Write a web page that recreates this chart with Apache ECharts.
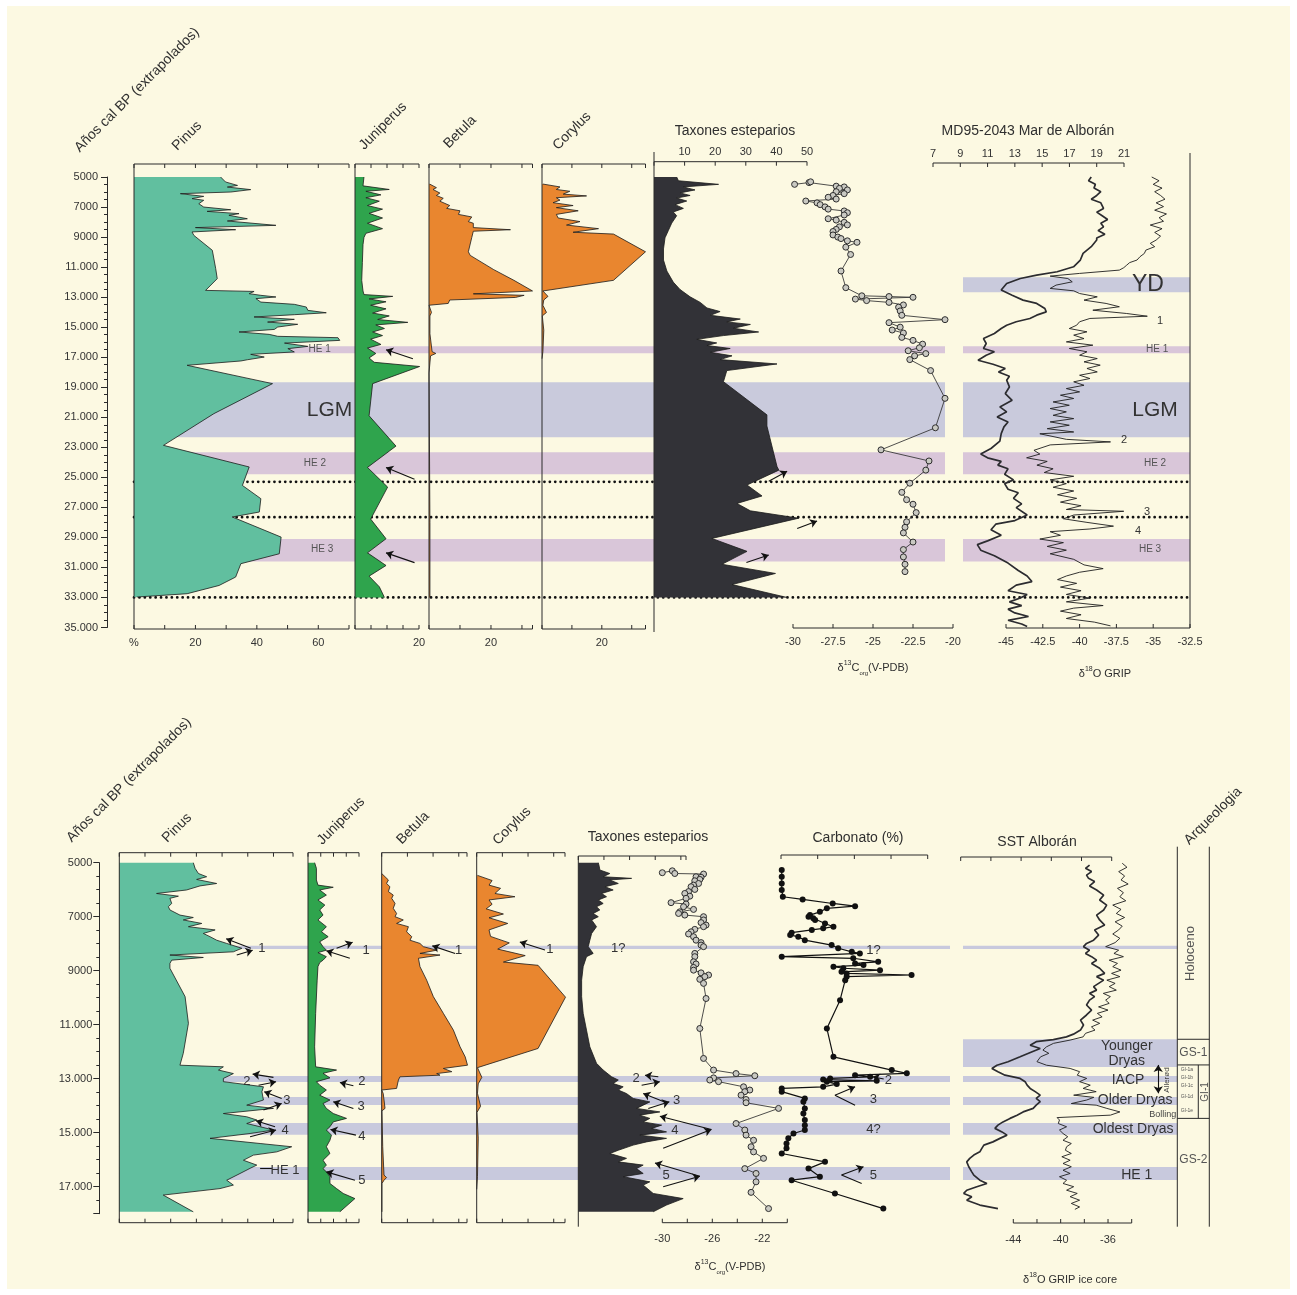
<!DOCTYPE html>
<html>
<head>
<meta charset="utf-8">
<script src="https://cdn.jsdelivr.net/npm/echarts@6/dist/echarts.min.js"></script>
<style>
html,body{margin:0;padding:0;background:#ffffff}
#chart{width:1297px;height:1295px}
</style>
</head>
<body>
<div id="chart"></div>
<script>
// ---------------------------------------------------------------
// Records: [age (cal BP), value]
// ---------------------------------------------------------------
// Upper diagram (5000 - 35000 cal BP)
const pinusTop = [[5000,28.2],[5330,29.8],[5560,33.7],[5670,30.4],[5840,38],[6000,31.5],[6110,15.1],[6290,22.7],[6440,18.9],[6550,22.7],[6780,21.1],[7000,22.7],[7180,31.5],[7290,23.8],[7440,34.2],[7550,30.9],[7780,36.9],[7930,30.4],[8220,46.2],[8370,20],[8510,33.1],[8660,18.9],[8890,19.5],[9880,25.5],[11100,26.6],[11770,27.1],[12550,23.3],[12620,39.1],[12770,37.5],[12880,41.3],[12990,46.2],[13100,39.7],[13330,41.3],[13480,52.2],[13660,56.1],[13880,56.6],[14040,62.6],[14170,52.2],[14320,39.1],[14480,52.2],[14660,43.5],[14810,53.3],[14990,46.8],[15150,45.7],[15320,34.2],[15480,44],[15610,46.8],[15700,66.4],[15880,67],[16060,49],[16280,56.6],[16430,50.1],[16650,52.2],[16810,38],[16990,42.4],[17170,36.9],[17250,34.8],[17540,17.3],[18760,45.1],[20760,26],[22870,9.6],[24310,37.5],[25540,35.3],[26420,41.3],[27310,40.8],[27640,32],[28980,47.9],[30090,47.3],[30750,34.8],[31640,33.1],[32200,27.7],[32750,17.3],[32970,0.9]];

const juniperusTop = [[5000,2.8],[5590,2.5],[5830,10.7],[5950,3.4],[6190,8.1],[6380,3.4],[6610,7.6],[6900,3.9],[7140,8.6],[7420,4.4],[7730,8.6],[8080,3.9],[8440,8.6],[8750,3.4],[9030,2.8],[9510,2.5],[10700,2.3],[11880,2.1],[12590,2.5],[12830,2.8],[12950,11.8],[13120,4.4],[13310,9.7],[13540,4.9],[13780,9.7],[14060,5.5],[14250,10.7],[14490,7.1],[14680,16.5],[14850,6.5],[15090,9.2],[15320,5.5],[15560,8.6],[15800,4.9],[16150,8.1],[16390,3.9],[16750,6.5],[17050,4.4],[17340,6.0],[17620,20.2],[18760,5.5],[20900,4.4],[22920,12.8],[24340,3.9],[25650,10.2],[27780,4.9],[29090,9.7],[30030,3.9],[30870,9.7],[31580,4.4],[32290,7.6],[33000,9.2]];

const betulaTop = [[5470,0.2],[5710,2.4],[5830,1.3],[6070,3.5],[6230,2.4],[6420,4.6],[6610,3.5],[6900,6.7],[7090,5.7],[7250,10],[7490,9.5],[7660,13.8],[7970,12.7],[8080,14.3],[8370,14.3],[8510,26.3],[8610,14.3],[9030,13.8],[9980,12.7],[10220,13.3],[11170,20.9],[11880,27.4],[12590,33.4],[12780,14.3],[12880,30.7],[13020,27.9],[13190,6.7],[13420,6.2],[13540,0],[14020,0.8],[14250,0.3],[15440,0.3],[16630,1],[16750,2.2],[16910,0.5],[18050,0],[28000,0.3],[33000,0.3]];

const corylusRecord = [[5470,0.3],[5660,6],[5830,4.8],[5950,9.3],[6140,7.1],[6260,14.9],[6380,4.8],[6540,6],[6710,3.7],[6900,10.4],[7040,4.8],[7250,12.1],[7490,4.8],[7730,5.4],[7970,12.7],[8200,8.2],[8440,18.9],[8680,10.4],[8800,23.9],[9980,34.6],[11880,23.9],[12590,0.3],[12950,2],[13190,0.6],[13540,0.3],[14020,1.5],[14250,0.1],[15200,0.6],[16630,0.3],[17100,0]];

const steppeTop = [[5000,7.4],[5250,8],[5490,21.1],[5660,9.6],[5860,13.4],[6060,8.5],[6230,11.8],[6400,7.4],[6600,10.7],[6840,6.9],[7090,9.6],[7330,6.3],[7580,7.4],[8070,5.8],[8560,4.7],[9050,3.6],[9790,3.1],[10530,3.1],[11260,4.2],[12000,6.3],[12490,8.5],[12980,11.8],[13350,15.1],[13720,17.3],[13960,21.6],[14210,18.4],[14460,28.2],[14650,23.8],[14820,31.5],[15070,26],[15320,34.2],[15560,22.7],[15810,14],[16050,20.5],[16220,17.3],[16420,24.9],[16670,18.4],[16910,25.5],[17160,21.6],[17450,40.2],[17890,23.8],[18630,22.7],[20840,36.9],[21580,36.9],[24280,40.2],[24520,40.8],[25510,30.4],[26240,35.3],[26740,27.1],[27230,31.5],[27720,47.3],[29070,18.9],[29930,30.4],[30790,22.2],[31400,39.7],[32140,25.5],[33000,43.5]];

const d13cTop = [[5490,-29.9],[5370,-29.0],[5320,-28.9],[5610,-27.3],[5660,-26.8],[5760,-27.1],[5860,-26.6],[5980,-27.3],[6110,-26.8],[6230,-27.5],[6350,-27.8],[6470,-27.3],[6600,-29.2],[6720,-28.5],[6840,-28.3],[6990,-28.0],[7140,-27.8],[7260,-26.8],[7380,-26.6],[7530,-26.8],[7780,-27.8],[7870,-27.3],[8020,-26.8],[8190,-26.6],[8320,-27.1],[8490,-27.3],[8630,-27.5],[8860,-27.5],[9000,-27.2],[9100,-27.0],[9250,-26.6],[9350,-26.0],[9670,-26.7],[10160,-26.4],[11260,-27.0],[12370,-26.7],[12910,-25.7],[12960,-24.0],[13010,-22.5],[13130,-26.1],[13230,-25.4],[13350,-24.0],[13520,-23.1],[13670,-23.4],[13920,-23.3],[14210,-23.2],[14500,-20.5],[14700,-24.0],[15000,-23.3],[15190,-23.8],[15390,-23.1],[15680,-23.2],[15880,-22.5],[16130,-21.9],[16370,-22.1],[16570,-22.8],[16760,-21.7],[16910,-22.4],[17160,-22.7],[17890,-21.4],[19740,-20.5],[21700,-21.1],[23170,-24.5],[23910,-21.5],[24520,-21.7],[25390,-22.7],[26000,-23.2],[26490,-22.9],[26790,-22.5],[27350,-22.3],[27960,-22.9],[28330,-23.0],[28700,-23.1],[29310,-22.5],[29810,-23.1],[30300,-23.1],[30790,-23.0],[31280,-23.0]];

const sstTop = [[5000,18.6],[5250,18.4],[5490,18.9],[5740,18.8],[5980,19.3],[6230,19.0],[6480,18.6],[6720,19.3],[7090,19.5],[7340,19.0],[7580,19.4],[7830,19.8],[8080,19.3],[8320,19.5],[8570,19.1],[8810,19.6],[9060,19.0],[9200,19.0],[9640,18.6],[10090,18.0],[10530,17.8],[10980,17.3],[11310,16.1],[11530,14.6],[11760,13.4],[12090,12.4],[12530,12.0],[12870,12.8],[13200,13.6],[13420,14.6],[13760,15.2],[13980,15.3],[14200,14.6],[14420,14.1],[14640,13.1],[14870,12.4],[15090,12.0],[15420,11.5],[15760,10.7],[16090,10.9],[16420,10.7],[16640,11.5],[16870,10.9],[17200,10.3],[17470,11.4],[17750,12.3],[17980,11.8],[18270,12.6],[18530,12.4],[18980,12.6],[19420,12.3],[19870,12.8],[20310,11.9],[20640,12.4],[20980,11.7],[21310,12.5],[21640,12.2],[22090,12.0],[22590,11.9],[23080,11.25],[23450,10.5],[23700,11.0],[23940,12.0],[24190,11.75],[24430,12.5],[24800,12.25],[25170,12.9],[25420,12.25],[25790,12.5],[26030,13.25],[26400,12.9],[26770,13.5],[27020,13.1],[27510,13.9],[27880,13.0],[28120,11.6],[28490,11.25],[28860,12.0],[29230,11.0],[29480,10.25],[29850,10.5],[30220,11.5],[30710,12.5],[31200,13.25],[31570,13.9],[31940,14.25],[32180,13.1],[32550,12.5],[32800,13.9],[33040,13.4],[33290,12.6],[33540,13.5],[33780,12.5],[34030,13.0],[34270,14.0],[34520,12.5],[34770,13.5],[34940,13.9]];

const gripTop = [[5000,-35.1],[5250,-34.6],[5490,-35.0],[5740,-34.4],[5980,-34.9],[6230,-34.5],[6480,-34.2],[6720,-34.8],[6970,-34.3],[7210,-34.9],[7460,-34.1],[7710,-34.6],[7950,-34.3],[8200,-35.2],[8440,-34.4],[8690,-34.9],[8940,-34.5],[9200,-34.8],[9420,-35.2],[9640,-34.9],[9870,-35.5],[10090,-35.6],[10310,-35.9],[10530,-36.1],[10700,-36.6],[10870,-36.8],[11040,-37.0],[11200,-37.3],[11420,-40.0],[11600,-42.0],[11760,-40.8],[11980,-40.5],[12200,-41.6],[12420,-42.0],[12580,-40.4],[12760,-40.0],[12980,-38.8],[13200,-39.7],[13420,-38.2],[13640,-37.3],[13870,-39.1],[14090,-36.8],[14270,-35.4],[14420,-39.3],[14640,-40.0],[14870,-40.2],[15090,-40.7],[15310,-39.5],[15530,-40.4],[15760,-39.7],[15980,-40.9],[16200,-39.1],[16420,-40.7],[16640,-39.5],[16870,-40.0],[17090,-38.8],[17310,-39.7],[17530,-38.6],[17750,-39.5],[17980,-38.8],[18200,-40.0],[18420,-39.3],[18640,-40.4],[18870,-39.7],[19090,-40.9],[19310,-40.0],[19530,-41.3],[19750,-40.4],[19980,-41.8],[20200,-40.7],[20420,-42.0],[20640,-40.9],[20870,-41.8],[21090,-40.4],[21310,-42.0],[21530,-40.7],[21760,-42.2],[21980,-40.4],[22100,-42.7],[22470,-40.9],[22640,-37.9],[22840,-42.0],[23200,-43.1],[23450,-42.7],[23700,-43.6],[23940,-42.2],[24190,-42.9],[24430,-41.8],[24680,-42.4],[24930,-40.4],[25170,-42.0],[25420,-40.9],[25660,-41.8],[25910,-40.4],[26160,-41.5],[26400,-40.2],[26650,-41.3],[26890,-39.9],[27140,-40.9],[27260,-37.0],[27510,-40.4],[27760,-41.1],[28000,-39.5],[28250,-37.7],[28440,-39.3],[28620,-42.0],[28860,-41.3],[29110,-42.7],[29350,-41.1],[29600,-42.2],[29850,-40.9],[30090,-42.0],[30460,-40.4],[30830,-39.7],[31080,-38.4],[31320,-40.0],[31570,-40.9],[31810,-41.5],[32060,-40.2],[32310,-41.3],[32550,-39.9],[32800,-40.9],[33040,-39.3],[33290,-40.9],[33540,-38.4],[33710,-40.4],[33910,-41.3],[34150,-39.9],[34400,-40.9],[34640,-39.0],[34890,-37.9]];

// Lower diagram (5000 - 18000 cal BP)
const pinusBot = [[5000,28.8],[5210,29.5],[5400,30.8],[5520,34],[5620,30.1],[5770,37.9],[5860,31.4],[6010,26.2],[6140,14.5],[6240,23],[6320,19.7],[6510,20.4],[6630,19.1],[6750,19.7],[6940,23.6],[7030,28.8],[7120,24.9],[7250,32.1],[7370,26.9],[7490,37.3],[7620,32.7],[7740,35.3],[7870,37.9],[7990,41.8],[8170,47.7],[8300,44.4],[8420,19.7],[8510,32.7],[8610,20.4],[8730,19.7],[8910,19.7],[9960,25.6],[10950,26.9],[12060,24.9],[12500,23.6],[12560,40.5],[12680,38.6],[12810,44.4],[12990,40.5],[13110,40.5],[13300,56.1],[13480,55.5],[13790,56.1],[13980,49.6],[14100,60],[14290,40.5],[14410,49.6],[14530,53.5],[14660,49.6],[14780,54.8],[14900,60],[15030,50.9],[15210,35.3],[15400,54.8],[15520,67.1],[15710,61.3],[15830,52.2],[16020,48.3],[16200,53.5],[16320,50.9],[16510,47],[16760,41.8],[16940,44.4],[17070,39.2],[17310,17.1],[17930,28.8]];

const juniperusBot = [[5000,2.6],[5210,3.3],[5640,3.3],[5830,3.9],[5910,9.9],[6010,4.6],[6200,7.2],[6380,3.9],[6570,6.6],[6750,4.6],[6940,5.9],[7120,3.9],[7370,7.2],[7560,5.3],[7740,7.9],[7930,4.6],[8110,5.9],[8240,7.2],[8330,3.9],[8480,7.2],[8610,5.9],[8700,4.6],[8850,3.9],[9350,3.6],[10580,3.0],[11820,2.6],[12560,3.0],[12680,11.2],[12800,5.9],[12970,8.6],[13110,3.3],[13240,4.6],[13420,7.2],[13610,4.6],[13790,8.6],[13920,5.9],[14100,7.2],[14290,9.9],[14470,15.1],[14600,9.9],[14780,8.6],[14900,7.2],[15090,9.2],[15280,8.6],[15520,7.2],[15770,8.6],[16020,5.9],[16200,7.2],[16330,5.9],[16450,7.2],[16630,8.6],[16880,8.6],[17070,11.2],[17250,13.8],[17440,18.4],[17930,12.5]];

const betulaBot = [[5400,0],[5520,1.3],[5640,2.6],[5770,1.9],[5890,3.2],[6070,2.6],[6200,4.5],[6320,3.9],[6510,5.2],[6690,4.5],[6880,5.8],[7000,5.2],[7120,8.4],[7250,5.8],[7370,10.4],[7560,9.7],[7740,11.7],[7870,11.0],[7990,14.9],[8110,16.2],[8240,21.4],[8360,14.9],[8420,22.7],[8540,14.3],[8850,14.9],[9350,17.5],[9960,20.1],[10580,24.0],[11200,27.9],[11820,30.5],[12190,32.5],[12500,33.4],[12620,24.0],[12740,27.3],[12810,21.4],[12870,22.7],[12930,7.1],[13050,6.5],[13360,5.8],[13420,0],[13550,0.6],[14100,1.3],[14190,0.1],[15520,0.4],[16570,0.9],[16660,1.9],[16760,0.9],[16880,0.1],[17930,0.1]];

const steppeBot = [[5000,7.8],[5150,8.2],[5270,8.4],[5400,12.3],[5520,9.7],[5580,20.8],[5640,12.3],[5770,15.6],[5890,10.4],[6010,13.6],[6140,9.1],[6260,11.0],[6380,7.8],[6510,9.7],[6630,7.1],[6750,8.4],[6880,5.8],[7000,7.8],[7120,5.2],[7370,7.1],[7620,5.2],[7870,4.5],[8110,3.9],[8360,5.8],[8480,3.2],[8850,1.9],[9350,1.3],[9960,1.3],[10580,1.9],[11200,3.2],[11820,4.5],[12430,7.1],[12680,9.7],[12930,13.0],[13050,15.6],[13180,13.6],[13300,17.5],[13420,15.6],[13550,18.8],[13730,21.4],[13860,27.9],[13980,25.3],[14100,22.7],[14230,31.8],[14350,24.0],[14470,27.9],[14600,25.3],[14720,32.5],[14840,28.6],[14970,34.4],[15090,24.0],[15210,34.4],[15340,26.6],[15460,21.4],[15650,15.6],[15770,12.3],[15950,18.8],[16080,15.6],[16200,25.3],[16330,22.7],[16510,25.3],[16630,17.5],[16820,27.9],[16940,25.3],[17250,29.2],[17440,40.9],[17680,34.4],[17930,29.2]];

const d13cBot = [[5370,-30.0],[5300,-29.2],[5400,-29.0],[5420,-26.7],[5520,-27.3],[5540,-26.9],[5620,-27.0],[5670,-27.4],[5770,-27.1],[5830,-27.5],[5890,-27.7],[5990,-27.4],[6070,-27.9],[6140,-28.2],[6240,-27.8],[6320,-28.1],[6480,-29.3],[6530,-28.1],[6630,-28.3],[6730,-27.5],[6820,-28.6],[6880,-28.7],[6940,-28.2],[7000,-26.7],[7120,-26.7],[7220,-26.9],[7310,-26.5],[7370,-26.7],[7470,-27.4],[7560,-27.7],[7640,-27.9],[7740,-27.5],[7870,-27.3],[7960,-26.9],[8050,-26.9],[8110,-26.7],[8360,-27.4],[8480,-27.4],[8670,-27.5],[8750,-27.3],[8880,-27.5],[8980,-27.5],[9080,-26.9],[9160,-26.3],[9220,-26.6],[9320,-27.0],[9470,-26.7],[10030,-26.5],[11140,-27.0],[12250,-26.7],[12680,-25.9],[12810,-24.1],[12890,-22.6],[12970,-25.9],[13050,-26.2],[13110,-25.5],[13300,-23.5],[13420,-23.0],[13480,-23.4],[13610,-23.7],[13770,-23.3],[13890,-23.3],[14100,-20.7],[14660,-24.1],[14900,-23.4],[15090,-23.3],[15280,-22.7],[15520,-22.9],[15710,-22.7],[15950,-21.9],[16330,-23.4],[16510,-22.5],[16820,-22.5],[17210,-22.9],[17810,-21.5]];

const carbonateBot = [[5270,0.2],[5520,0.2],[5770,0.2],[6010,0.2],[6260,0.5],[6360,5.9],[6510,14.1],[6610,20.2],[6690,12.5],[6820,10.6],[6940,7.9],[7000,7.5],[7060,8.8],[7120,9.3],[7250,12.0],[7370,14.3],[7430,11.5],[7490,8.4],[7590,2.9],[7680,2.5],[7740,4.7],[7870,6.5],[8050,13.8],[8170,15.6],[8300,19.3],[8360,21.5],[8480,0.2],[8540,19.7],[8670,26.5],[8730,20.2],[8790,22.5],[8850,14.3],[8910,17.0],[8980,27.0],[9040,16.5],[9100,17.9],[9160,35.6],[9220,17.9],[9350,17.5],[10090,16.1],[11140,12.5],[12190,14.3],[12680,30.2],[12800,34.3],[12870,20.2],[12930,24.3],[12990,13.4],[13030,11.5],[13080,26.1],[13110,12.5],[13200,15.2],[13300,11.5],[13360,0.2],[13480,0.2],[13730,6.5],[13850,6.1],[14100,6.5],[14290,6.1],[14530,6.5],[14720,6.5],[14900,6.5],[15030,3.4],[15210,2.0],[15400,1.5],[15580,1.5],[15770,0.2],[16080,12.0],[16330,7.5],[16630,10.6],[16760,2.9],[17250,14.7],[17810,27.9]];

const sstBot = [[5090,18.8],[5210,18.4],[5330,19.0],[5460,18.5],[5580,18.7],[5700,19.3],[5860,18.8],[6010,19.5],[6200,20.2],[6380,19.8],[6570,20.5],[6750,20.2],[6940,19.5],[7120,19.8],[7310,20.3],[7490,19.3],[7680,19.7],[7870,19.2],[7990,18.5],[8110,18.2],[8240,18.8],[8360,18.4],[8480,19.0],[8610,19.5],[8730,19.0],[8910,19.8],[9100,20.3],[9220,19.5],[9350,20.2],[9470,19.7],[9590,19.2],[9720,19.5],[9840,18.8],[9960,19.3],[10090,18.8],[10270,18.5],[10460,19.0],[10640,18.5],[10830,17.9],[11010,18.2],[11200,17.9],[11350,17.2],[11450,16.5],[11550,15.2],[11630,13.5],[11760,12.9],[11880,13.9],[12000,13.1],[12190,11.9],[12370,10.7],[12500,9.6],[12620,9.1],[12740,9.7],[12870,10.4],[12990,11.9],[13110,12.4],[13240,12.6],[13360,12.9],[13480,13.4],[13610,13.9],[13730,13.5],[13850,13.9],[13980,13.5],[14100,13.2],[14230,12.2],[14350,11.6],[14470,10.9],[14600,10.2],[14720,9.7],[14840,9.4],[14970,10.1],[15090,10.6],[15210,9.9],[15340,9.2],[15460,8.3],[15580,8.1],[15710,7.9],[15830,7.3],[15950,6.9],[16080,6.6],[16260,6.8],[16450,7.1],[16570,7.3],[16760,7.9],[16880,8.6],[17000,7.6],[17130,6.6],[17250,6.3],[17370,7.1],[17500,6.6],[17680,7.9],[17810,9.7]];

const gripBot = [[5020,-34.8],[5170,-34.4],[5330,-35.1],[5490,-34.6],[5640,-34.9],[5790,-34.3],[5950,-35.2],[6110,-34.7],[6260,-35.0],[6410,-34.5],[6570,-35.6],[6730,-34.9],[6880,-35.3],[7030,-34.6],[7190,-35.4],[7350,-34.8],[7490,-35.1],[7640,-35.6],[7800,-35.0],[7960,-35.4],[8110,-36.2],[8240,-35.1],[8360,-35.5],[8480,-34.7],[8610,-35.9],[8730,-35.2],[8850,-35.6],[8980,-34.9],[9100,-35.7],[9220,-35.0],[9350,-36.1],[9470,-35.4],[9590,-35.9],[9720,-35.3],[9840,-36.4],[9960,-35.8],[10090,-36.2],[10210,-35.9],[10340,-36.8],[10460,-36.0],[10580,-36.9],[10710,-36.5],[10830,-37.3],[10950,-36.7],[11080,-37.4],[11200,-37.1],[11320,-37.9],[11450,-38.1],[11570,-39.2],[11690,-40.6],[11820,-41.2],[11940,-41.5],[12060,-41.0],[12190,-41.7],[12370,-42.0],[12500,-41.2],[12620,-39.2],[12740,-38.4],[12870,-38.6],[12990,-37.8],[13110,-38.4],[13240,-37.5],[13360,-38.1],[13480,-37.0],[13610,-38.9],[13690,-37.2],[13790,-37.8],[13920,-39.1],[13980,-37.0],[14100,-36.1],[14230,-35.0],[14350,-35.8],[14440,-40.3],[14530,-40.1],[14660,-40.2],[14780,-39.5],[14900,-40.1],[15030,-39.8],[15150,-39.4],[15280,-39.8],[15400,-39.1],[15520,-39.5],[15650,-39.6],[15770,-39.1],[15890,-39.9],[16020,-39.2],[16140,-39.8],[16260,-39.1],[16390,-39.8],[16510,-39.2],[16630,-40.1],[16760,-39.5],[16880,-39.8],[17000,-38.9],[17130,-39.5],[17250,-38.6],[17370,-39.2],[17500,-38.4],[17620,-39.1],[17750,-38.4],[17840,-38.8]];

// Event bands [from age, to age]
const topHE = [[16270,16730],[23330,24800],[29100,30600]];
const topLGM = [18670,22330];
const topYD = [11670,12670];
const topDottedAges = [25300,27650,33000];
const botEventBands = [[8080,8200],[12900,13120],[13680,13970],[14640,15080],[16270,16750]];
const botYD = [11540,12570];
// Stratigraphic column boundaries (cal BP)
const holoceneBase = 11540, gs1Base = 12490, gi1Base = 14470;

// ---------------------------------------------------------------
const FONT = '"Liberation Sans", Arial, sans-serif';
const INK = '#2a2a2a';
const CREAM = '#fcf9e2';
const C = {
  pinus: '#61bf9f', juniperus: '#2fa44d', orange: '#e9862f', steppe: '#323237',
  mauve: '#d9c6d9', lilac: '#c9cadc', lilacB: '#c8c9dd'
};

// vertical age scale of each diagram: two reference ages and their pixel rows
const TOP = {ageA: 5000, pxA: 177, ageB: 35000, pxB: 627.5};
const BOT = {ageA: 5000, pxA: 862.7, ageB: 17000, pxB: 1186.7};
function ageExtent(f, top, bottom) {
  const k = (f.ageB - f.ageA) / (f.pxB - f.pxA);
  return [f.ageA + (top - f.pxA) * k, f.ageA + (bottom - f.pxA) * k];
}
function agePx(f, age) {
  const k = (f.ageB - f.ageA) / (f.pxB - f.pxA);
  return f.pxA + (age - f.ageA) / k;
}

const option = {animation: false, backgroundColor: '#ffffff', grid: [], xAxis: [], yAxis: [], series: [], graphic: []};

// Panels: the record grid has hidden value axes; its frame (edge lines, top/bottom
// scale lines with inward ticks) is drawn in data coordinates by a custom series.
function frameSeries(ax, p, ext) {
  const x0 = p.xmin, x1 = p.xmax, step = p.interval;
  const ticks = [];
  if (step) { for (let v = x0; v < x1 - 1e-6; v += step) ticks.push(v); ticks.push(x1); }
  return {type: 'custom', xAxisIndex: ax.xi, yAxisIndex: ax.yi, z: 6, silent: true, clip: false,
    data: [[x0, ext[0]]], encode: {x: 0, y: 1},
    renderItem: (params, api) => {
      const kids = [];
      const seg = (a, b) => kids.push({type: 'line', shape: {x1: a[0], y1: a[1], x2: b[0], y2: b[1]},
        style: {stroke: INK, lineWidth: 1}});
      (p.edges || []).forEach(s => {
        const xv = s === 'right' ? x1 : x0;
        seg(api.coord([xv, ext[0]]), api.coord([xv, ext[1]]));
      });
      (p.frame || []).forEach(side => {
        const av = side === 'top' ? ext[0] : ext[1];
        const dir = side === 'top' ? 1 : -1;
        seg(api.coord([x0, av]), api.coord([x1, av]));
        ticks.forEach(v => { const c = api.coord([v, av]); seg(c, [c[0], c[1] + 4 * dir]); });
      });
      return {type: 'group', children: kids};
    }};
}

// scale labels of a panel: hidden-line value axis used only for its labels
function addPanel(p) {
  const ext = ageExtent(p.fig, p.top, p.bottom);
  const gi = option.grid.length;
  option.grid.push({left: p.left, top: p.top, width: p.right - p.left, height: p.bottom - p.top});
  const yi = option.yAxis.length;
  option.yAxis.push({gridIndex: gi, type: 'value', inverse: true, min: ext[0], max: ext[1], show: false});
  const xi = option.xAxis.length;
  const lab = p.labels;
  option.xAxis.push({gridIndex: gi, type: 'value', min: p.xmin, max: p.xmax, interval: p.interval,
    position: lab ? lab.pos : 'bottom', offset: lab && lab.offset ? lab.offset : 0, show: !!lab,
    axisLine: {show: false}, axisTick: {show: false}, splitLine: {show: false},
    axisLabel: {show: !!lab, formatter: lab ? lab.fmt : undefined, color: '#333', fontSize: 11, fontFamily: FONT,
      margin: lab ? lab.margin : 5}});
  const handle = {xi, yi};
  if ((p.edges && p.edges.length) || (p.frame && p.frame.length)) {
    option.series.push(frameSeries(handle, p, p.frameExt || ext));
  }
  return handle;
}

function ageLabel(v) {
  if (Math.abs((v - 5000) % 2000) > 1) return '';
  return v < 10000 ? String(v) : (v / 1000) + '.000';
}
function addAgeAxis(f, x, maxAge, margin) {
  const gi = option.grid.length;
  const top = agePx(f, 5000), bottom = agePx(f, maxAge);
  option.grid.push({left: x, top: top, width: 1, height: bottom - top});
  option.xAxis.push({gridIndex: gi, type: 'value', show: false, min: 0, max: 1});
  option.yAxis.push({gridIndex: gi, type: 'value', inverse: true, min: 5000, max: maxAge, interval: 2000,
    position: 'left',
    axisLine: {show: true, onZero: false, lineStyle: {color: INK, width: 1}},
    axisTick: {show: true, length: 6, lineStyle: {color: INK}},
    minorTick: {show: true, splitNumber: 4, length: 3, lineStyle: {color: INK}},
    axisLabel: {formatter: ageLabel, fontSize: 11, color: '#333', fontFamily: FONT, margin: margin},
    splitLine: {show: false}, minorSplitLine: {show: false}});
}

function areaSeries(ax, data, fill) {
  return {type: 'custom', xAxisIndex: ax.xi, yAxisIndex: ax.yi, z: 3, silent: true, clip: false,
    data: data.map(d => [d[1], d[0]]), encode: {x: 0, y: 1},
    renderItem: (params, api) => {
      if (params.dataIndex !== 0) return null;
      const pts = data.map(d => api.coord([d[1], d[0]]));
      const poly = [api.coord([0, data[0][0]])].concat(pts, [api.coord([0, data[data.length - 1][0]])]);
      return {type: 'group', children: [
        {type: 'polygon', shape: {points: poly}, style: {fill: fill}},
        {type: 'polyline', shape: {points: pts}, style: {fill: null, stroke: '#1c1c1c', lineWidth: 0.8}}
      ]};
    }};
}

function curve(ax, data, color, width, extra) {
  return Object.assign({type: 'line', xAxisIndex: ax.xi, yAxisIndex: ax.yi, data: data.map(d => [d[1], d[0]]),
    symbol: 'none', lineStyle: {color: color, width: width}, z: 4, silent: true, clip: false}, extra || {});
}

function notes(ax, items, base) {
  return {type: 'custom', xAxisIndex: ax.xi, yAxisIndex: ax.yi, z: 8, silent: true, clip: false,
    data: items.map(t => [t[0], t[1]]), encode: {x: 0, y: 1},
    renderItem: (params, api) => {
      const t = items[params.dataIndex];
      const o = Object.assign({}, base || {}, t[3] || {});
      const p = api.coord([t[0], t[1]]);
      return {type: 'text', x: p[0], y: p[1], rotation: o.rot || 0,
        style: {text: t[2], fill: o.color || '#333', fontSize: o.size || 12, fontFamily: FONT,
          align: 'center', verticalAlign: 'middle', lineHeight: o.lh || undefined}};
    }};
}

function arrows(ax, list, heads) {
  return {type: 'lines', coordinateSystem: 'cartesian2d', xAxisIndex: ax.xi, yAxisIndex: ax.yi, z: 7,
    silent: true, clip: false, symbol: heads || ['none', 'arrow'], symbolSize: 7,
    lineStyle: {color: '#111', width: 1.1, opacity: 1, curveness: 0},
    data: list.map(a => ({coords: [[a[0], a[1]], [a[2], a[3]]]}))};
}

function bands(ax, list, color) {
  return {type: 'custom', xAxisIndex: ax.xi, yAxisIndex: ax.yi, z: 1, silent: true, clip: false,
    data: list.map(b => [0, b[0], b[1]]), encode: {x: 0, y: [1, 2]},
    renderItem: (params, api) => {
      const b = list[params.dataIndex];
      const p0 = api.coord([0, b[0]]), p1 = api.coord([100, b[1]]);
      return {type: 'rect', shape: {x: p0[0], y: p0[1], width: p1[0] - p0[0], height: p1[1] - p0[1]},
        style: {fill: color}};
    }};
}

function dotted(ax, ages) {
  return {type: 'custom', xAxisIndex: ax.xi, yAxisIndex: ax.yi, z: 2, silent: true, clip: false,
    data: ages.map(a => [0, a]), encode: {x: 0, y: 1},
    renderItem: (params, api) => {
      const a = ages[params.dataIndex];
      const p0 = api.coord([0, a]), p1 = api.coord([100, a]);
      return {type: 'line', shape: {x1: p0[0], y1: p0[1], x2: p1[0], y2: p1[1]},
        style: {stroke: '#111', lineWidth: 2.7, lineDash: [0.1, 5.3], lineCap: 'round'}};
    }};
}

function rules(ax, list) {
  // horizontal [age, x0, x1] or vertical ['v', x, age0, age1]
  return {type: 'custom', xAxisIndex: ax.xi, yAxisIndex: ax.yi, z: 5, silent: true, clip: false,
    data: list.map((l, i) => [i, 0]),
    renderItem: (params, api) => {
      const l = list[params.dataIndex];
      let p0, p1;
      if (l[0] === 'v') { p0 = api.coord([l[1], l[2]]); p1 = api.coord([l[1], l[3]]); }
      else { p0 = api.coord([l[1], l[0]]); p1 = api.coord([l[2], l[0]]); }
      return {type: 'line', shape: {x1: p0[0], y1: p0[1], x2: p1[0], y2: p1[1]},
        style: {stroke: INK, lineWidth: 1}};
    }};
}

const only = vals => (v => vals.indexOf(v) >= 0 ? String(v) : '');

// ================= UPPER DIAGRAM =================
addAgeAxis(TOP, 107, 35000, 9);
const bgTL = addPanel({fig: TOP, left: 134, right: 945, top: 164, bottom: 629, xmin: 0, xmax: 100});
const bgTR = addPanel({fig: TOP, left: 963, right: 1190, top: 164, bottom: 629, xmin: 0, xmax: 100});
const bgTF = addPanel({fig: TOP, left: 134, right: 1190, top: 164, bottom: 629, xmin: 0, xmax: 100});

const pinT = addPanel({fig: TOP, left: 134, right: 349, top: 164, bottom: 629, xmin: 0, xmax: 70, interval: 10,
  edges: ['left'], frame: ['top', 'bottom'],
  labels: {pos: 'bottom', margin: 8, fmt: v => v === 0 ? '%' : only([20, 40, 60])(v)}});
const junT = addPanel({fig: TOP, left: 355, right: 419, top: 164, bottom: 629, xmin: 0, xmax: 20, interval: 5,
  edges: ['left'], frame: ['top', 'bottom'], labels: {pos: 'bottom', margin: 8, fmt: only([20])}});
const betT = addPanel({fig: TOP, left: 429, right: 532.5, top: 164, bottom: 629, xmin: 0, xmax: 33.4, interval: 10,
  edges: ['left'], frame: ['top', 'bottom'], labels: {pos: 'bottom', margin: 8, fmt: only([20])}});
const corT = addPanel({fig: TOP, left: 542, right: 645.5, top: 164, bottom: 629, xmin: 0, xmax: 34.6, interval: 10,
  edges: ['left'], frame: ['top', 'bottom'], labels: {pos: 'bottom', margin: 8, fmt: only([20])}});
const stpT = addPanel({fig: TOP, left: 654, right: 807, top: 161.7, bottom: 632, xmin: 0, xmax: 50, interval: 10,
  frame: ['top'], labels: {pos: 'top', margin: 4, fmt: v => v === 0 ? '' : String(v)}});
option.series.push(frameSeries(stpT, {xmin: 0, xmax: 50, edges: ['left']}, ageExtent(TOP, 152, 632)));
const d13T = addPanel({fig: TOP, left: 793, right: 953, top: 164, bottom: 628, xmin: -30, xmax: -20, interval: 2.5,
  frame: ['bottom'], labels: {pos: 'bottom', margin: 8, fmt: v => String(v)}});
const sstT = addPanel({fig: TOP, left: 933, right: 1124, top: 163, bottom: 628, xmin: 7, xmax: 21, interval: 2,
  frame: ['top'], labels: {pos: 'top', margin: 4, fmt: v => String(v)}});
const grpT = addPanel({fig: TOP, left: 1006, right: 1190, top: 153, bottom: 628, xmin: -45, xmax: -32.5, interval: 2.5,
  edges: ['right'], frame: ['bottom'], labels: {pos: 'bottom', margin: 8, fmt: v => String(v)}});

option.series.push(
  bands(bgTL, topHE, C.mauve), bands(bgTL, [topLGM], C.lilac),
  bands(bgTR, topHE, C.mauve), bands(bgTR, [topLGM, topYD], C.lilac),
  dotted(bgTF, topDottedAges),
  areaSeries(pinT, pinusTop, C.pinus),
  areaSeries(junT, juniperusTop, C.juniperus),
  areaSeries(betT, betulaTop, C.orange),
  areaSeries(corT, corylusRecord, C.orange),
  areaSeries(stpT, steppeTop, C.steppe),
  curve(d13T, d13cTop, '#3a3a3a', 0.9, {symbol: 'circle', symbolSize: 6,
    itemStyle: {color: '#c9c9c2', borderColor: '#2e2e2e', borderWidth: 1}}),
  curve(sstT, sstTop, '#2c2c30', 1.7),
  curve(grpT, gripTop, '#1e1e1e', 0.9),
  arrows(junT, [[18.1,17100,9.7,16510],[18.6,25120,9.7,24340],[18.6,30680,9.7,30030]]),
  arrows(stpT, [[37.5,25260,43.5,24600],[46.8,28410,53.3,27910],[30.2,30670,37.5,30170]]),
  notes(bgTL, [[22.9,16500,'HE 1'],[22.3,24050,'HE 2'],[23.2,29800,'HE 3'],[24.1,20500,'LGM',{size: 21, color: '#333'}]],
    {size: 10, color: '#555'}),
  notes(bgTR, [[85.5,16500,'HE 1'],[84.6,24070,'HE 2'],[82.4,29800,'HE 3'],
    [84.6,20530,'LGM',{size: 21, color: '#333'}],[81.5,12170,'YD',{size: 23, color: '#333'}],
    [86.8,14600,'1',{size: 11, color: '#333'}],[70.9,22530,'2',{size: 11, color: '#333'}],
    [81.1,27330,'3',{size: 11, color: '#333'}],[77.1,28600,'4',{size: 11, color: '#333'}]],
    {size: 10, color: '#555'})
);

// ================= LOWER DIAGRAM =================
addAgeAxis(BOT, 99.3, 18000, 7);
const bgBL = addPanel({fig: BOT, left: 119.3, right: 950, top: 852.7, bottom: 1222.7, xmin: 0, xmax: 100});
const bgBR = addPanel({fig: BOT, left: 963, right: 1177.3, top: 852.7, bottom: 1222.7, xmin: 0, xmax: 100});

const pinB = addPanel({fig: BOT, left: 119.3, right: 293, top: 852.7, bottom: 1222.7, xmin: 0, xmax: 67.6, interval: 10,
  edges: ['left'], frame: ['top', 'bottom']});
const junB = addPanel({fig: BOT, left: 308, right: 359, top: 852.7, bottom: 1222.7, xmin: 0, xmax: 20, interval: 5,
  edges: ['left'], frame: ['top', 'bottom']});
const betB = addPanel({fig: BOT, left: 381.7, right: 467, top: 852.7, bottom: 1222.7, xmin: 0, xmax: 33.2, interval: 10,
  edges: ['left'], frame: ['top', 'bottom']});
const corB = addPanel({fig: BOT, left: 476.7, right: 565, top: 852.7, bottom: 1222.7, xmin: 0, xmax: 34.4, interval: 10,
  edges: ['left'], frame: ['top', 'bottom']});
const stpB = addPanel({fig: BOT, left: 578.3, right: 686, top: 856, bottom: 1226.7, xmin: 0, xmax: 42, interval: 10,
  edges: ['left'], frame: ['top']});
const d13B = addPanel({fig: BOT, left: 662.3, right: 787.3, top: 852.7, bottom: 1222.7, xmin: -30, xmax: -20, interval: 2,
  frame: ['bottom'], labels: {pos: 'bottom', margin: 11, fmt: only([-30, -26, -22])}});
const carB = addPanel({fig: BOT, left: 781, right: 927.7, top: 855, bottom: 1222.7, xmin: 0, xmax: 40, interval: 10,
  frame: ['top']});
const sstB = addPanel({fig: BOT, left: 960.7, right: 1111.7, top: 857, bottom: 1222.7, xmin: 6, xmax: 21, interval: 3,
  frame: ['top']});
const grpB = addPanel({fig: BOT, left: 1013.3, right: 1131.7, top: 857, bottom: 1223, xmin: -44, xmax: -34, interval: 2,
  frame: ['bottom'], labels: {pos: 'bottom', margin: 11, fmt: only([-44, -40, -36])}});
const arqB = addPanel({fig: BOT, left: 1177.3, right: 1209.3, top: 846.7, bottom: 1226.7, xmin: 0, xmax: 100,
  edges: ['left', 'right']});

option.series.push(
  bands(bgBL, botEventBands, C.lilacB),
  bands(bgBR, botEventBands.concat([botYD]), C.lilacB),
  areaSeries(pinB, pinusBot, C.pinus),
  areaSeries(junB, juniperusBot, C.juniperus),
  areaSeries(betB, betulaBot, C.orange),
  areaSeries(corB, corylusRecord, C.orange),
  areaSeries(stpB, steppeBot, C.steppe),
  curve(d13B, d13cBot, '#3a3a3a', 0.9, {symbol: 'circle', symbolSize: 6,
    itemStyle: {color: '#c9c9c2', borderColor: '#2e2e2e', borderWidth: 1}}),
  curve(carB, carbonateBot, '#111', 1.2, {symbol: 'circle', symbolSize: 6, itemStyle: {color: '#111'}}),
  curve(sstB, sstBot, '#2c2c30', 1.7),
  curve(grpB, gripBot, '#1e1e1e', 0.9),
  arrows(pinB, [[51.2,8170,41.6,7820],[45.7,8420,51.9,8240],[60.0,12950,51.9,12830],[54.2,13240,61.0,13110],
    [63.2,13730,56.4,13480],[56.1,14160,63.2,13920],[60.6,14780,53.2,14560],[50.9,15150,61.0,14900]]),
  arrows(pinB, [[54.8,16300,59.4,16300]], ['none', 'none']),
  arrows(junB, [[11.2,8170,17.5,7950],[16.4,8540,7.2,8260],[17.8,13260,12.5,13140],[17.8,14100,9.9,13850],
    [18.8,15090,8.8,14880],[18.4,16760,7.2,16450]]),
  arrows(betB, [[28.6,8360,19.7,8080]]),
  arrows(corB, [[26.6,8230,16.8,7940]]),
  arrows(stpB, [[31.2,12930,26.0,12870],[24.7,13240,31.8,13110],[34.4,13890,25.3,13550],[27.3,14100,35.5,13850],
    [51.9,14880,31.8,14390],[33.1,15580,51.9,14880],[47.4,16610,29.9,16120],[33.1,17000,47.4,16610]]),
  arrows(carB, [[28.0,13010,25.0,12930],[14.7,13610,20.2,13300],[16.5,16570,22.5,16260]]),
  arrows(carB, [[20.2,13980,14.7,13610],[22.0,16880,16.5,16570]], ['none', 'none']),
  arrows(bgBR, [[91.1,12490,91.1,13540]], ['arrow', 'arrow']),
  notes(pinB, [[55.5,8170,'1'],[49.6,13110,'2'],[65.2,13820,'3'],[64.5,14900,'4'],[64.5,16410,'HE 1']], {size: 13}),
  notes(junB, [[22.8,8260,'1'],[21.1,13110,'2'],[20.8,14040,'3'],[21.1,15130,'4'],[21.1,16760,'5']], {size: 13}),
  notes(betB, [[29.9,8260,'1']], {size: 13}),
  notes(corB, [[28.5,8210,'1']], {size: 13}),
  notes(stpB, [[15.6,8170,'1?'],[22.5,12990,'2'],[38.3,13820,'3'],[37.7,14900,'4'],[34.2,16570,'5']], {size: 13}),
  notes(carB, [[25.2,8240,'1?'],[29.3,13050,'2'],[25.2,13770,'3'],[25.2,14880,'4?'],[25.2,16570,'5']], {size: 13}),
  notes(bgBR, [[76.4,12060,'Younger\nDryas',{lh: 15}],[77,13050,'IACP'],[80.3,13790,'Older Dryas'],
    [93.2,14320,'Bolling',{size: 9, color: '#444'}],[79.4,14870,'Oldest Dryas'],[81.1,16570,'HE 1'],
    [95,13050,'Allerød',{size: 8, rot: Math.PI / 2, color: '#444'}]], {size: 14}),
  rules(arqB, [[holoceneBase, 0, 100], [gs1Base, 0, 100], [gi1Base, 0, 100], ['v', 65.6, gs1Base, gi1Base]]),
  notes(arqB, [[40,8360,'Holoceno',{rot: Math.PI / 2, size: 13}],[50,12040,'GS-1',{size: 12}],
    [86,13490,'GI-1',{rot: Math.PI / 2, size: 10}],[50,16010,'GS-2',{size: 12}],
    [30,12680,'GI-1a'],[30,12950,'GI-1b'],[30,13270,'GI-1c'],[30,13660,'GI-1d'],[30,14180,'GI-1e']],
    {size: 5, color: '#555'})
);

// ================= titles =================
function title(x, y, text, opt) {
  opt = opt || {};
  option.graphic.push({type: 'text', x: x, y: y, rotation: opt.rot || 0, z: 20, silent: true,
    style: {text: text, fill: '#2f2f2f', fontSize: opt.size || 14, fontFamily: FONT,
      align: 'center', verticalAlign: 'middle', rich: opt.rich}});
}
option.graphic.push({type: 'rect', shape: {x: 7, y: 6, width: 1283, height: 1283}, style: {fill: CREAM}, z: -100, silent: true});
const R45 = Math.PI / 4;
const isoRich = {
  n: {fontSize: 11, fontFamily: FONT, fill: '#2f2f2f', lineHeight: 16, verticalAlign: 'middle'},
  s: {fontSize: 7, fontFamily: FONT, fill: '#2f2f2f', lineHeight: 16, verticalAlign: 'top'},
  u: {fontSize: 6, fontFamily: FONT, fill: '#2f2f2f', lineHeight: 16, verticalAlign: 'bottom'}
};
title(137, 90, 'Años cal BP (extrapolados)', {rot: R45});
title(187, 136, 'Pinus', {rot: R45});
title(383, 126, 'Juniperus', {rot: R45});
title(460, 132, 'Betula', {rot: R45});
title(572, 131, 'Corylus', {rot: R45});
title(735, 131, 'Taxones esteparios');
title(1028, 131, 'MD95-2043 Mar de Alborán');
title(873, 668, '{n|δ}{s|13}{n|C}{u|org}{n|(V-PDB)}', {rich: isoRich});
title(1105, 674, '{n|δ}{s|18}{n|O GRIP}', {rich: isoRich});

title(129, 780, 'Años cal BP (extrapolados)', {rot: R45});
title(177, 828, 'Pinus', {rot: R45});
title(341, 821, 'Juniperus', {rot: R45});
title(413, 828, 'Betula', {rot: R45});
title(512, 826, 'Corylus', {rot: R45});
title(1213, 816, 'Arqueologia', {rot: R45});
title(648, 837, 'Taxones esteparios');
title(858, 838, 'Carbonato (%)');
title(1037, 842, 'SST Alborán');
title(730, 1267, '{n|δ}{s|13}{n|C}{u|org}{n|(V-PDB)}', {rich: isoRich});
title(1070, 1280, '{n|δ}{s|18}{n|O GRIP ice core}', {rich: isoRich});

const chart = echarts.init(document.getElementById('chart'), null, {renderer: 'canvas', width: 1297, height: 1295});
chart.setOption(option);
</script>
</body>
</html>
